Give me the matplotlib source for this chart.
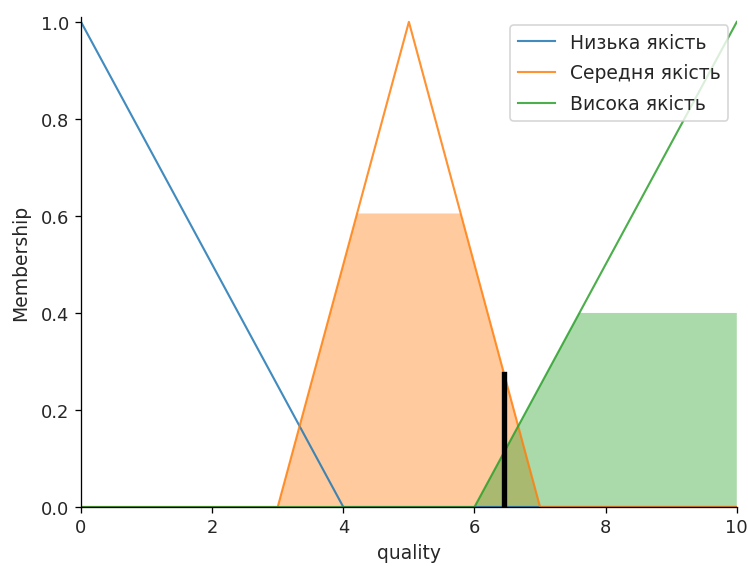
import numpy as np
import matplotlib
matplotlib.use("Agg")
import matplotlib.pyplot as plt

# Output universe and triangular membership functions for "quality"
universe = np.arange(0, 10.001, 0.01)
term_names = ["Низька якість", "Середня якість", "Висока якість"]
term_abc = [[0, 0, 4], [3, 5, 7], [6, 10, 10]]
activations = [0.0, 0.605, 0.40]
defuzz_value = 6.45

colors = ["#1f77b4", "#ff7f0e", "#2ca02c"]


def trimf(x, abc):
    a, b, c = abc
    y = np.zeros_like(x)
    if b > a:
        m = (x > a) & (x < b)
        y[m] = (x[m] - a) / (b - a)
    if c > b:
        m = (x > b) & (x < c)
        y[m] = (c - x[m]) / (c - b)
    y[x == b] = 1.0
    return y


plt.rcParams["text.color"] = "#262626"
plt.rcParams["xtick.labelcolor"] = "#262626"
plt.rcParams["ytick.labelcolor"] = "#262626"
plt.rcParams["axes.labelcolor"] = "#262626"

fig = plt.figure(figsize=(6.4, 4.846), dpi=117)
ax = fig.add_axes([81 / 749, 1 - 508 / 567, (737 - 81) / 749, (508 - 18) / 567])

mfs = [trimf(universe, abc) for abc in term_abc]
for name, mf, c in zip(term_names, mfs, colors):
    ax.plot(universe, mf, color=c, linewidth=1.3, alpha=0.85, label=name)

aggregated = np.zeros_like(universe)
for mf, act, c in zip(mfs, activations, colors):
    clipped = np.fmin(act, mf)
    ax.fill_between(universe, np.zeros_like(universe), clipped, facecolor=c, alpha=0.4)
    aggregated = np.fmax(aggregated, clipped)

height = np.interp(defuzz_value, universe, aggregated)
ax.plot([defuzz_value, defuzz_value], [0, height], color="k", linewidth=3.3)

ax.set_xlim(0, 10)
ax.set_ylim(0, 1.01)
ax.set_xlabel("quality", fontsize=11.5, labelpad=4)
ax.set_ylabel("Membership", fontsize=11.5, labelpad=7)
ax.tick_params(labelsize=11)
ax.spines["top"].set_visible(False)
ax.spines["right"].set_visible(False)
ax.get_xaxis().tick_bottom()
ax.get_yaxis().tick_left()
ax.legend(loc="upper right", fontsize=11.5, labelspacing=0.62, borderaxespad=0.45)

fig.savefig("out.png", dpi=117)
